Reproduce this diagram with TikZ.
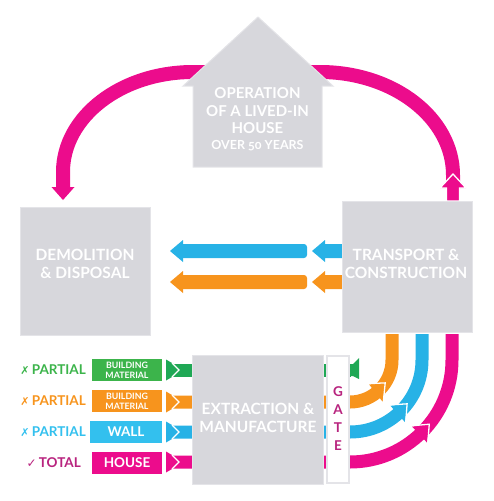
\documentclass[tikz,border=0pt]{standalone}
\usepackage{fontspec}
\setmainfont{Lato}
\newfontfamily\symf{DejaVu Sans}
\newfontfamily\osf{Lato}[Numbers=OldStyle]
\usetikzlibrary{calc}
\definecolor{cgreen}{HTML}{1FA855}
\definecolor{cgreenL}{HTML}{3CB44B}
\definecolor{corange}{HTML}{F7941D}
\definecolor{cblue}{HTML}{27B2E6}
\definecolor{cblueL}{HTML}{33C0EE}
\definecolor{cpink}{HTML}{EC0C8C}
\definecolor{ctotal}{HTML}{B8237E}
\definecolor{cbox}{HTML}{D7D7DC}
\definecolor{cboxedge}{HTML}{E4E4E8}
\begin{document}
\begin{tikzpicture}[x=1pt,y=-1pt,
  box/.style={fill=cbox, draw=cboxedge, line width=1pt, inner sep=0pt},
  boxtext/.style={text=white, font=\fontsize{15.5}{18.5}\selectfont\bfseries, align=center, inner sep=0pt},
  lab/.style={inner sep=0pt, minimum width=70pt, minimum height=21.5pt, text=white, align=center},
  smalllab/.style={font=\fontsize{8.8}{9.8}\selectfont\bfseries},
  biglab/.style={font=\fontsize{13.5}{15}\selectfont\bfseries},
  rowtext/.style={anchor=east, inner sep=0pt, font=\fontsize{13.5}{15}\selectfont\bfseries},
  bar/.style={line width=13pt},
  loop/.style={line width=14pt, cpink},
  headline/.style={white, line width=1.3pt}
]
\useasboundingbox (0,0) rectangle (493,501);

% ---------- pink loop over the top ----------
\coordinate (loopstart) at (453,189);
\coordinate (loopend) at (63,188);
\draw[loop] (loopstart) -- (453,175) .. controls (453,118) and (393.5,72) .. (320,72)
  -- (193,72) .. controls (121.2,72) and (63,116.8) .. (63,172) -- (loopend);
\fill[cpink] (51.5,187) -- (74.5,187) -- (63,200) -- cycle;
\filldraw[fill=cpink, draw=white, line width=1.3pt] (446.5,201) -- (446.5,188) -- (440,188)
  -- (453,174) -- (466,188) -- (459.5,188) -- (459.5,201) -- cycle;

% ---------- house ----------
\filldraw[fill=cbox, draw=cboxedge, line width=1pt] (258,17) -- (333,86) -- (322,86) -- (322,167)
  -- (193,167) -- (193,86) -- (183,86) -- cycle;
\node[boxtext, font=\fontsize{15}{17.5}\selectfont\bfseries] (houset) at (257.5,111) {OPERATION\\OF A LIVED-IN\\HOUSE};
\node[boxtext, font=\fontsize{12.5}{14}\selectfont\bfseries] (houseyrs) at (257.5,146) {OVER {\osf 50} YEARS};

% ---------- middle arrows ----------
\foreach \yy/\cc in {251/cblue, 282/corange}{
  \fill[\cc] (312,\yy) -- (325,\yy-11) -- (325,\yy-7) -- (344,\yy-7) -- (344,\yy+7)
     -- (325,\yy+7) -- (325,\yy+11) -- cycle;
  \fill[\cc, rounded corners=3pt] (180,\yy-7) rectangle (307,\yy+7);
  \fill[\cc] (170,\yy) -- (183,\yy-11) -- (183,\yy+11) -- cycle;
}

% ---------- row bars and arcs ----------
\coordinate (C) at (350,360);
\draw[bar, cgreen] (172,370) -- (351,370);
\fill[cgreen] (349,364) -- (353,364) -- (359,358) -- (359,379) -- (353,376) -- (349,376) -- cycle;
\draw[bar, corange] (172,402) -- (350,402) .. controls (373.2,402) and (392,383.2) .. (392,360) -- (392,334);
\draw[bar, cblue] (172,432) -- (350,432) .. controls (389.8,432) and (422,399.8) .. (422,360) -- (422,334);
\draw[bar, cpink] (172,462) -- (350,462) .. controls (406.3,462) and (452,416.3) .. (452,360) -- (452,334);
% tails
\foreach \yy/\cc in {370/cgreen, 402/corange, 432/cblue, 462/cpink}{
  \fill[\cc] (166,\yy-10.5) -- (184,\yy) -- (166,\yy+10.5) -- cycle;
  \draw[headline] (172,\yy-7) -- (179,\yy) -- (172,\yy+7);
}

% ---------- boxes ----------
\node[box, minimum width=130pt, minimum height=128pt] (demo) at (85,271) {};
\node[boxtext] (demot) at (85,264) {DEMOLITION\\\& DISPOSAL};
\node[box, minimum width=130pt, minimum height=131pt] (trans) at (407,266.5) {};
\node[boxtext] (transt) at (406,264) {TRANSPORT \&\\CONSTRUCTION};
\node[box, minimum width=131pt, minimum height=129pt] (extr) at (257.5,419.5) {};
\node[boxtext] (extrt) at (258,418) {EXTRACTION \&\\MANUFACTURE};
\node[fill=white, draw=cboxedge, line width=1.5pt, minimum width=22pt, minimum height=127pt, inner sep=0pt] (gate) at (338,419.5) {};
\node[text=ctotal, font=\fontsize{13.5}{18}\selectfont\bfseries, align=center, inner sep=0pt] (gatet) at (338,419) {G\\A\\T\\E};

% ---------- arc arrowheads ----------
\foreach \bb/\tt/\rr/\cc in {52/33/42/corange, 48.5/37.5/72/cblue, 47/39/102/cpink}{
  \fill[\cc] ($(C)+(\bb:\rr-11)$) -- ($(C)+(\tt:\rr)$) -- ($(C)+(\bb:\rr+11)$) -- cycle;
  \draw[headline] ($(C)+(\bb:\rr-12)$) -- ($(C)+(\tt:\rr)$) -- ($(C)+(\bb:\rr+12)$);
}

% ---------- left labels ----------
\node[lab, fill=cgreenL, smalllab] (b1) at (127,370) {BUILDING\\MATERIAL};
\node[lab, fill=corange, smalllab] (b2) at (127,401) {BUILDING\\MATERIAL};
\node[lab, fill=cblueL, biglab, minimum width=72pt] (b3) at (126,432) {WALL};
\node[lab, fill=cpink, biglab] (b4) at (127,463) {HOUSE};

\node[rowtext, text=cgreenL] (t1) at (86,370) {{\symf\fontsize{11}{13}\selectfont ✗}\,PARTIAL};
\node[rowtext, text=corange] (t2) at (86,401) {{\symf\fontsize{11}{13}\selectfont ✗}\,PARTIAL};
\node[rowtext, text=cblueL] (t3) at (86,432) {{\symf\fontsize{11}{13}\selectfont ✗}\,PARTIAL};
\node[rowtext, text=ctotal] (t4) at (81,463) {{\symf\fontsize{12}{13}\selectfont ✓}\,TOTAL};
\end{tikzpicture}
\end{document}
